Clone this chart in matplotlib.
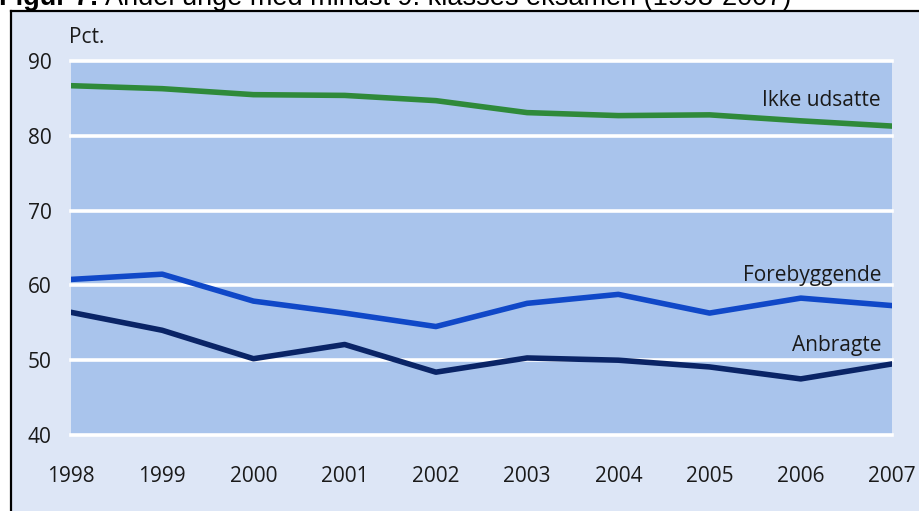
import matplotlib
matplotlib.use("Agg")
import matplotlib.pyplot as plt
from matplotlib.patches import Rectangle
from matplotlib.lines import Line2D

years = [1998, 1999, 2000, 2001, 2002, 2003, 2004, 2005, 2006, 2007]
ikke_udsatte = [86.7, 86.3, 85.5, 85.4, 84.7, 83.1, 82.7, 82.8, 82.0, 81.3]
forebyggende = [60.8, 61.5, 57.9, 56.3, 54.5, 57.6, 58.8, 56.3, 58.3, 57.3]
anbragte = [56.4, 54.0, 50.2, 52.1, 48.4, 50.3, 50.0, 49.1, 47.5, 49.5]
yticks = [40, 50, 60, 70, 80, 90]
series_labels = ["Ikke udsatte", "Forebyggende", "Anbragte"]
title_bold = "Figur 7:"
title_rest = " Andel unge med mindst 9. klasses eksamen (1998-2007)"

W, H = 920, 511
fig = plt.figure(figsize=(W / 100, H / 100), dpi=100)
fig.patch.set_facecolor("white")

# outer light panel with black left/top border
fig.patches.append(Rectangle((11 / W, 0), 1, 1 - 12 / H, transform=fig.transFigure,
                             facecolor="#dde6f6", edgecolor="none", zorder=-5))
fig.lines.append(Line2D([11 / W, 11 / W], [0, 1 - 11.5 / H], transform=fig.transFigure,
                        color="black", lw=1.6, zorder=-4))
fig.lines.append(Line2D([11 / W, 1], [1 - 11.5 / H, 1 - 11.5 / H], transform=fig.transFigure,
                        color="black", lw=1.6, zorder=-4))

# title (top clipped by figure edge, as in the source)
tsize = 19.5
t1 = fig.text(-1 / W, 1 - 5 / H, title_bold, fontsize=tsize, fontweight="bold",
              family="Liberation Sans", color="black", va="baseline", ha="left")
fig.canvas.draw()
bb = t1.get_window_extent()
fig.text(bb.x1 / W, 1 - 5 / H, title_rest, fontsize=tsize,
         family="Liberation Sans", color="black", va="baseline", ha="left")

left, right = 71 / W, 892 / W
bottom, top = 1 - 435 / H, 1 - 61 / H
ax = fig.add_axes([left, bottom, right - left, top - bottom])
ax.set_facecolor("#a9c4ec")
ax.set_xlim(1998, 2007)
ax.set_ylim(40, 90)
for s in ax.spines.values():
    s.set_visible(False)

for yv in yticks:
    ax.axhline(yv, color="white", lw=2.6, clip_on=False, zorder=1)

ax.plot(years, ikke_udsatte, color="#2f8a3a", lw=4.0, zorder=3)
ax.plot(years, forebyggende, color="#1048c8", lw=4.0, zorder=3)
ax.plot(years, anbragte, color="#0a2466", lw=4.0, zorder=3)

fam = ["Open Sans", "DejaVu Sans"]
ax.set_yticks(yticks)
ax.set_yticklabels([str(v) for v in yticks], fontsize=15, family=fam, color="#1a1a1a")
ax.set_xticks(years)
ax.set_xticklabels([str(v) for v in years], fontsize=15, family=fam, color="#1a1a1a")
ax.tick_params(axis="y", length=0, pad=14)
ax.tick_params(axis="x", length=0, pad=22)

ax.text(1998 - 0.02, 92.4, "Pct.", fontsize=15, family=fam, color="#1a1a1a",
        ha="left", va="baseline", clip_on=False)
ax.text(2006.88, 84.0, series_labels[0], fontsize=15, family=fam, color="#1a1a1a",
        ha="right", va="baseline")
ax.text(2006.88, 60.6, series_labels[1], fontsize=15, family=fam, color="#1a1a1a",
        ha="right", va="baseline")
ax.text(2006.88, 51.2, series_labels[2], fontsize=15, family=fam, color="#1a1a1a",
        ha="right", va="baseline")

fig.savefig("out.png", dpi=100)
